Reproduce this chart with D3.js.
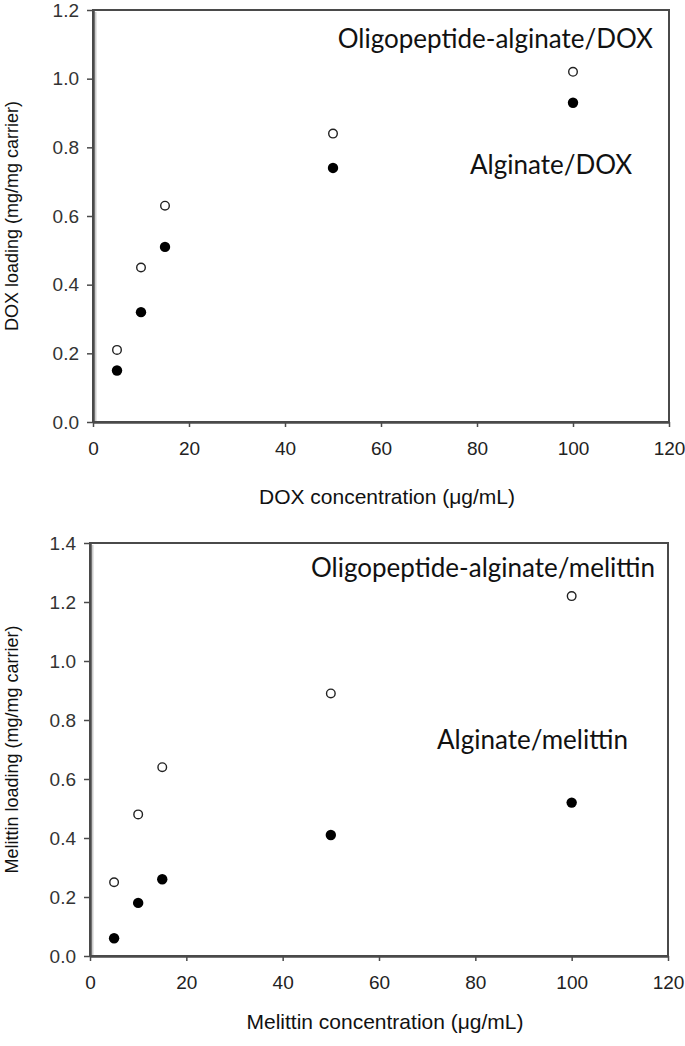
<!DOCTYPE html>
<html><head><meta charset="utf-8">
<script src="https://cdn.jsdelivr.net/npm/d3@7"></script>
<style>body{margin:0;background:#fff}</style>
</head><body>
<svg id="c" width="685" height="1046"></svg>
<script>
const concentrations = [5, 10, 15, 50, 100];
const doxOligo = [0.21, 0.45, 0.63, 0.84, 1.02];
const doxAlginate = [0.15, 0.32, 0.51, 0.74, 0.93];
const melOligo = [0.25, 0.48, 0.64, 0.89, 1.22];
const melAlginate = [0.06, 0.18, 0.26, 0.41, 0.52];
const xTicks = [0, 20, 40, 60, 80, 100, 120];
const yTicksTop = [0.0, 0.2, 0.4, 0.6, 0.8, 1.0, 1.2];
const yTicksBottom = [0.0, 0.2, 0.4, 0.6, 0.8, 1.0, 1.2, 1.4];

const svg = d3.select("#c");
const axisFont = "'Liberation Sans',Arial,sans-serif";
const annFont = "Lato,'Open Sans',sans-serif";

function panel(o) {
  const g = svg.append("g");
  const x = d3.scaleLinear().domain([0, 120]).range([o.left, o.right]);
  const y = d3.scaleLinear().domain([0, o.ymax]).range([o.bottom, o.top]);
  const col = "#4a4a4a";
  g.append("line").attr("x1", o.left + 2.5).attr("x2", o.left + 2.5)
    .attr("y1", o.top + 2).attr("y2", o.bottom).attr("stroke", "#ccc").attr("stroke-width", 2);
  g.append("rect").attr("x", o.left).attr("y", o.top)
    .attr("width", o.right - o.left).attr("height", o.bottom - o.top)
    .attr("fill", "none").attr("stroke", col).attr("stroke-width", 2);
  const xa = g.append("g").attr("transform", `translate(0,${o.bottom})`)
    .call(d3.axisBottom(x).tickValues(xTicks).tickSize(5).tickSizeOuter(0).tickPadding(15));
  xa.select(".domain").attr("stroke", col).attr("stroke-width", 2.5);
  xa.selectAll(".tick line").attr("stroke", col).attr("stroke-width", 1.5);
  xa.selectAll("text").attr("font-family", axisFont).attr("font-size", 19).attr("fill", "#222");
  const ya = g.append("g").attr("transform", `translate(${o.left},0)`)
    .call(d3.axisLeft(y).tickValues(o.yTicks).tickFormat(d3.format(".1f")).tickSize(6).tickSizeOuter(0).tickPadding(8));
  ya.select(".domain").attr("stroke", col).attr("stroke-width", 2.5);
  ya.selectAll(".tick line").attr("stroke", col).attr("stroke-width", 1.5);
  ya.selectAll("text").attr("font-family", axisFont).attr("font-size", 19).attr("fill", "#333");
  g.append("text").attr("x", (o.left + o.right) / 2 + 6).attr("y", o.xTitleY)
    .attr("text-anchor", "middle").attr("font-family", axisFont).attr("font-size", 21)
    .attr("fill", "#111").text(o.xTitle);
  g.append("text").attr("transform", `translate(${o.yTitleX},${(o.top + o.bottom) / 2}) rotate(-90)`)
    .attr("text-anchor", "middle").attr("font-family", axisFont).attr("font-size", 18)
    .attr("fill", "#111").text(o.yTitle);
  g.selectAll(".filled").data(concentrations.map((c, i) => [c, o.filled[i]])).join("circle")
    .attr("cx", d => x(d[0])).attr("cy", d => y(d[1])).attr("r", 5.2).attr("fill", "#000");
  g.selectAll(".open").data(concentrations.map((c, i) => [c, o.open[i]])).join("circle")
    .attr("cx", d => x(d[0])).attr("cy", d => y(d[1])).attr("r", 4.3)
    .attr("fill", "#fff").attr("stroke", "#222").attr("stroke-width", 1.4);
  o.labels.forEach(l => {
    g.append("text").attr("x", l.x).attr("y", l.y).attr("font-family", annFont)
      .attr("text-anchor", l.anchor || "start")
      .attr("font-size", 26).attr("fill", "#111").text(l.t);
  });
}

panel({left: 93, right: 669, top: 10, bottom: 422, ymax: 1.2, yTicks: yTicksTop,
  open: doxOligo, filled: doxAlginate,
  xTitle: "DOX concentration (\u03bcg/mL)", xTitleY: 504, yTitle: "DOX loading (mg/mg carrier)", yTitleX: 18,
  labels: [{x: 653, y: 48, t: "Oligopeptide-alginate/DOX", anchor: "end"}, {x: 470, y: 174, t: "Alginate/DOX"}]});

panel({left: 90, right: 668, top: 543, bottom: 956, ymax: 1.4, yTicks: yTicksBottom,
  open: melOligo, filled: melAlginate,
  xTitle: "Melittin concentration (\u03bcg/mL)", xTitleY: 1029, yTitle: "Melittin loading (mg/mg carrier)", yTitleX: 18,
  labels: [{x: 655, y: 577, t: "Oligopeptide-alginate/melittin", anchor: "end"}, {x: 437, y: 749, t: "Alginate/melittin"}]});
</script>
</body></html>
